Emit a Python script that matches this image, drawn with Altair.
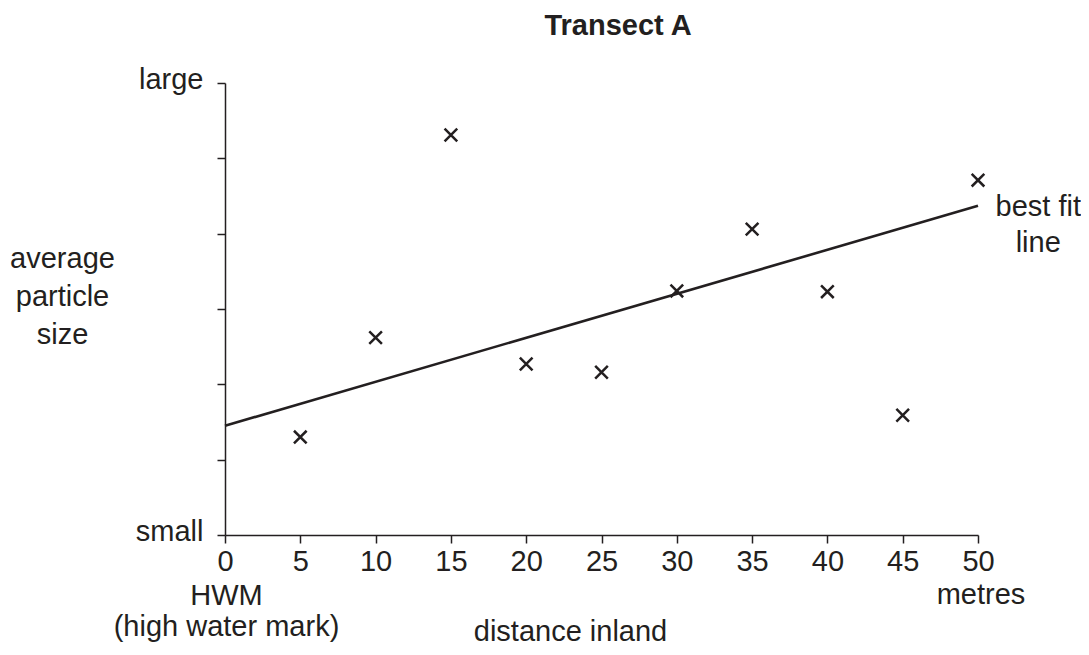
import altair as alt
import pandas as pd

# data
distance = [5, 10, 15, 20, 25, 30, 35, 40, 45, 50]
particle = [1.30, 2.62, 5.31, 2.27, 2.16, 3.24, 4.06, 3.23, 1.59, 4.71]
fit_x = [0, 50]
fit_y = [1.45, 4.37]
x_ticks = [0, 5, 10, 15, 20, 25, 30, 35, 40, 45, 50]
y_ticks = [0, 1, 2, 3, 4, 5, 6]

notes_text = [["HWM"], ["(high water mark)"], ["metres"], ["best fit", "line"]]
notes_x = [0.1, 0.1, 50.2, 54.0]
notes_y = [-0.81, -1.22, -0.79, 4.35]

title_text = ["Transect A"]
title_x = [26.1]
title_y = [6.76]

FONT = "Liberation Sans"
INK = "#231f20"
FS = 29

pts = pd.DataFrame({"d": distance, "p": particle})
fit = pd.DataFrame({"d": fit_x, "p": fit_y})
notes = pd.DataFrame({"t": notes_text, "d": notes_x, "p": notes_y})
ttl = pd.DataFrame({"t": title_text, "d": title_x, "p": title_y})

xs = alt.Scale(domain=[0, 50], nice=False, zero=False)
ys = alt.Scale(domain=[0, 6], nice=False, zero=False)

xaxis = alt.Axis(values=x_ticks, grid=False, tickSize=8, labelFontSize=FS,
                 labelFont=FONT, labelColor=INK, labelPadding=4,
                 domainColor=INK, tickColor=INK, domainWidth=1.5, tickWidth=1.5,
                 title="distance inland", titleFont=FONT, titleFontSize=FS,
                 titleFontWeight="normal", titleColor=INK,
                 titleX=345, titleY=96, titleBaseline="middle", titleAlign="center",
                 labelFlush=False, labelOverlap=False)
yaxis = alt.Axis(values=y_ticks, grid=False, tickSize=8, labelFontSize=FS,
                 labelFont=FONT, labelColor=INK, labelPadding=14, labelOffset=-4,
                 labelExpr="datum.value == 6 ? 'large' : (datum.value == 0 ? 'small' : '')",
                 domainColor=INK, tickColor=INK, domainWidth=1.5, tickWidth=1.5,
                 title=["average", "particle", "size"], titleFont=FONT, titleFontSize=FS,
                 titleFontWeight="normal", titleColor=INK, titleAngle=0,
                 titleX=-163, titleY=175, titleBaseline="middle", titleAlign="center",
                 titleLineHeight=38, labelFlush=False, labelOverlap=False)

points = alt.Chart(pts).mark_point(
    shape="M-1,-1L1,1M-1,1L1,-1", filled=False, stroke=INK, strokeWidth=2.5, size=160, opacity=1
).encode(x=alt.X("d:Q", scale=xs, axis=xaxis), y=alt.Y("p:Q", scale=ys, axis=yaxis))

line = alt.Chart(fit).mark_line(color=INK, strokeWidth=2.6).encode(
    x=alt.X("d:Q", scale=xs), y=alt.Y("p:Q", scale=ys))

text = alt.Chart(notes).mark_text(font=FONT, fontSize=FS, color=INK, align="center",
                                  baseline="middle", lineHeight=36).encode(
    x=alt.X("d:Q", scale=xs), y=alt.Y("p:Q", scale=ys), text="t")

title = alt.Chart(ttl).mark_text(font=FONT, fontSize=FS, fontWeight="bold", color=INK,
                                 align="center", baseline="middle").encode(
    x=alt.X("d:Q", scale=xs), y=alt.Y("p:Q", scale=ys), text="t")

chart = alt.layer(line, points, text, title).properties(
    width=753, height=452,
    background="white",
    autosize=alt.AutoSizeParams(type="none"),
    padding={"left": 217, "top": 75, "right": 103, "bottom": 110},
).configure_view(stroke=None)

chart.save("out.html", embed_options={"renderer": "svg", "actions": False})
